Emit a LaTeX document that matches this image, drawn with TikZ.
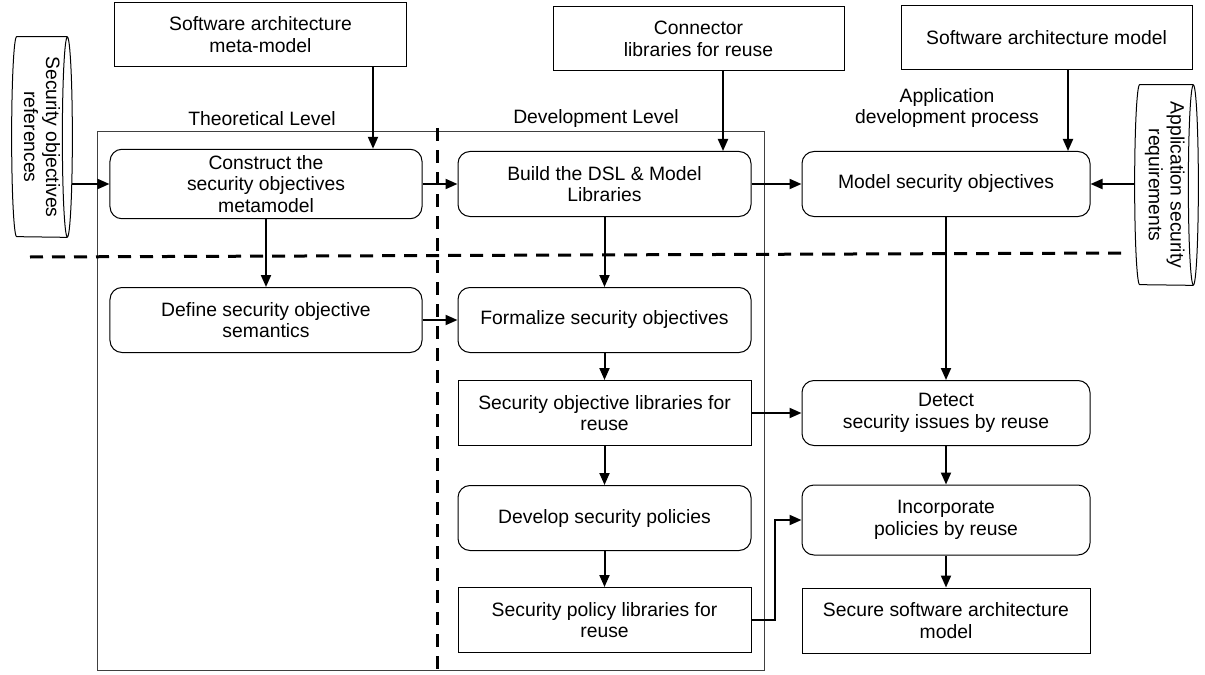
\documentclass[tikz,border=0pt]{standalone}
\usepackage{fontspec}
\setmainfont{Liberation Sans}
\usepackage{graphicx}
\usetikzlibrary{arrows.meta, calc}

\begin{document}
\begin{tikzpicture}[x=0.2mm, y=-0.2mm, font=\fontsize{11pt}{12.4pt}\selectfont,
        block/.style={rectangle, draw, rounded corners=2.4mm, align=center, minimum height=13mm, line width=0.2mm},
        libbox/.style={rectangle, draw, align=center, minimum height=13mm, line width=0.2mm},
        source/.style={libbox, minimum width=58.2mm, minimum height=12.8mm},
        store/.style={rectangle, inner sep=0pt, minimum height=40mm, align=center},
        line/.style={draw, line width=0.4mm, -{Triangle[length=2.4mm, width=2mm]}},
        divider/.style={line width=0.6mm, dash pattern=on 2.6mm off 1.8mm},
        level/.style={align=center}]

        \useasboundingbox (0,0) rectangle (1205,675);

        % frame and level dividers
        \draw[line width=0.2mm, black!75] (97,132) rectangle (764,670);
        \draw[divider] (437,128) -- (437,673);
        \draw[divider] (30,257) -- (1127,253);

        \node[level] (theo) at (262,119) {Theoretical Level};
        \node[level] (devel) at (596,119) {Development Level};
        \node[level] (appdev) at (947,108) {Application\\development process};

        % inputs
        \node[source] (metamodel) at (260.5,34.5) {Software architecture\\meta-model};
        \node[source] (connlib) at (698.5,38.5) {Connector\\libraries for reuse};
        \node[source] (samodel) at (1046.5,38) {Software architecture model};

        \node[store, minimum width=11mm] (secref) at (39.5,137)
            {\rotatebox{-90}{\begin{tabular}{@{}c@{}}Security objectives\\references\end{tabular}}};
        \node[store, minimum width=11.6mm] (appreq) at (1164,185)
            {\rotatebox{-90}{\begin{tabular}{@{}c@{}}Application security\\requirements\end{tabular}}};

        % cylinder outlines
        \draw[line width=0.2mm] (secref.north east) -- ([xshift=1mm]secref.north west)
            arc[start angle=90, end angle=270, x radius=1mm, y radius=20mm] -- (secref.south east);
        \draw[line width=0.2mm] (secref.east) ellipse [x radius=1mm, y radius=20mm];
        \draw[line width=0.2mm] (appreq.north east) -- ([xshift=1mm]appreq.north west)
            arc[start angle=90, end angle=270, x radius=1mm, y radius=20mm] -- (appreq.south east);
        \draw[line width=0.2mm] (appreq.east) ellipse [x radius=1mm, y radius=20mm];

        % theoretical level
        \node[block, minimum width=62.4mm] (construct) at (266,184) {Construct the\\security objectives\\metamodel};
        \node[block, minimum width=62.4mm] (define) at (266,320) {Define security objective\\semantics};

        % development level
        \node[block, minimum width=58.6mm] (build) at (604.5,184) {Build the DSL \& Model\\Libraries};
        \node[block, minimum width=58.6mm] (formalize) at (604.5,320) {Formalize security objectives};
        \node[libbox, minimum width=58.6mm] (sollib) at (604.5,413) {Security objective libraries for\\reuse};
        \node[block, minimum width=58.6mm] (develop) at (604.5,518) {Develop security policies};
        \node[libbox, minimum width=58.6mm] (splib) at (604.5,620) {Security policy libraries for\\reuse};

        % application development
        \node[block, minimum width=57.6mm] (modelobj) at (946,184) {Model security objectives};
        \node[block, minimum width=57.6mm] (detect) at (946,413) {Detect\\security issues by reuse};
        \node[block, minimum width=57.6mm, minimum height=14mm] (incorporate) at (946,520) {Incorporate\\policies by reuse};
        \node[libbox, minimum width=57.6mm] (secure) at (946,620.5) {Secure software architecture\\model};

        % connectors
        \coordinate (mmout) at ([xshift=22.5mm]metamodel.south);
        \coordinate (clout) at ([xshift=4.9mm]connlib.south);
        \coordinate (saout) at ([xshift=4.3mm]samodel.south);
        \coordinate (srout) at ([xshift=0.9mm]secref.east);

        \path [line] (mmout) -- (mmout |- construct.north);
        \path [line] (clout) -- (clout |- build.north);
        \path [line] (saout) -- (saout |- modelobj.north);
        \path [line] (srout |- construct.west) -- (construct.west);
        \path [line] (appreq.west |- modelobj.east) -- (modelobj.east);

        \path [line] (construct) -- (build);
        \path [line] (build) -- (modelobj);
        \path [line] (construct) -- (define);
        \path [line] (build) -- (formalize);
        \path [line] (define) -- (formalize);
        \path [line] (formalize) -- (sollib);
        \path [line] (sollib) -- (detect);
        \path [line] (modelobj) -- (detect);
        \path [line] (sollib) -- (develop);
        \path [line] (detect) -- (incorporate);
        \path [line] (develop) -- (splib);
        \path [line] (incorporate) -- (secure);
        \path [line] (splib.east) -- ++(23,0) |- (incorporate.west);
    \end{tikzpicture}
\end{document}
